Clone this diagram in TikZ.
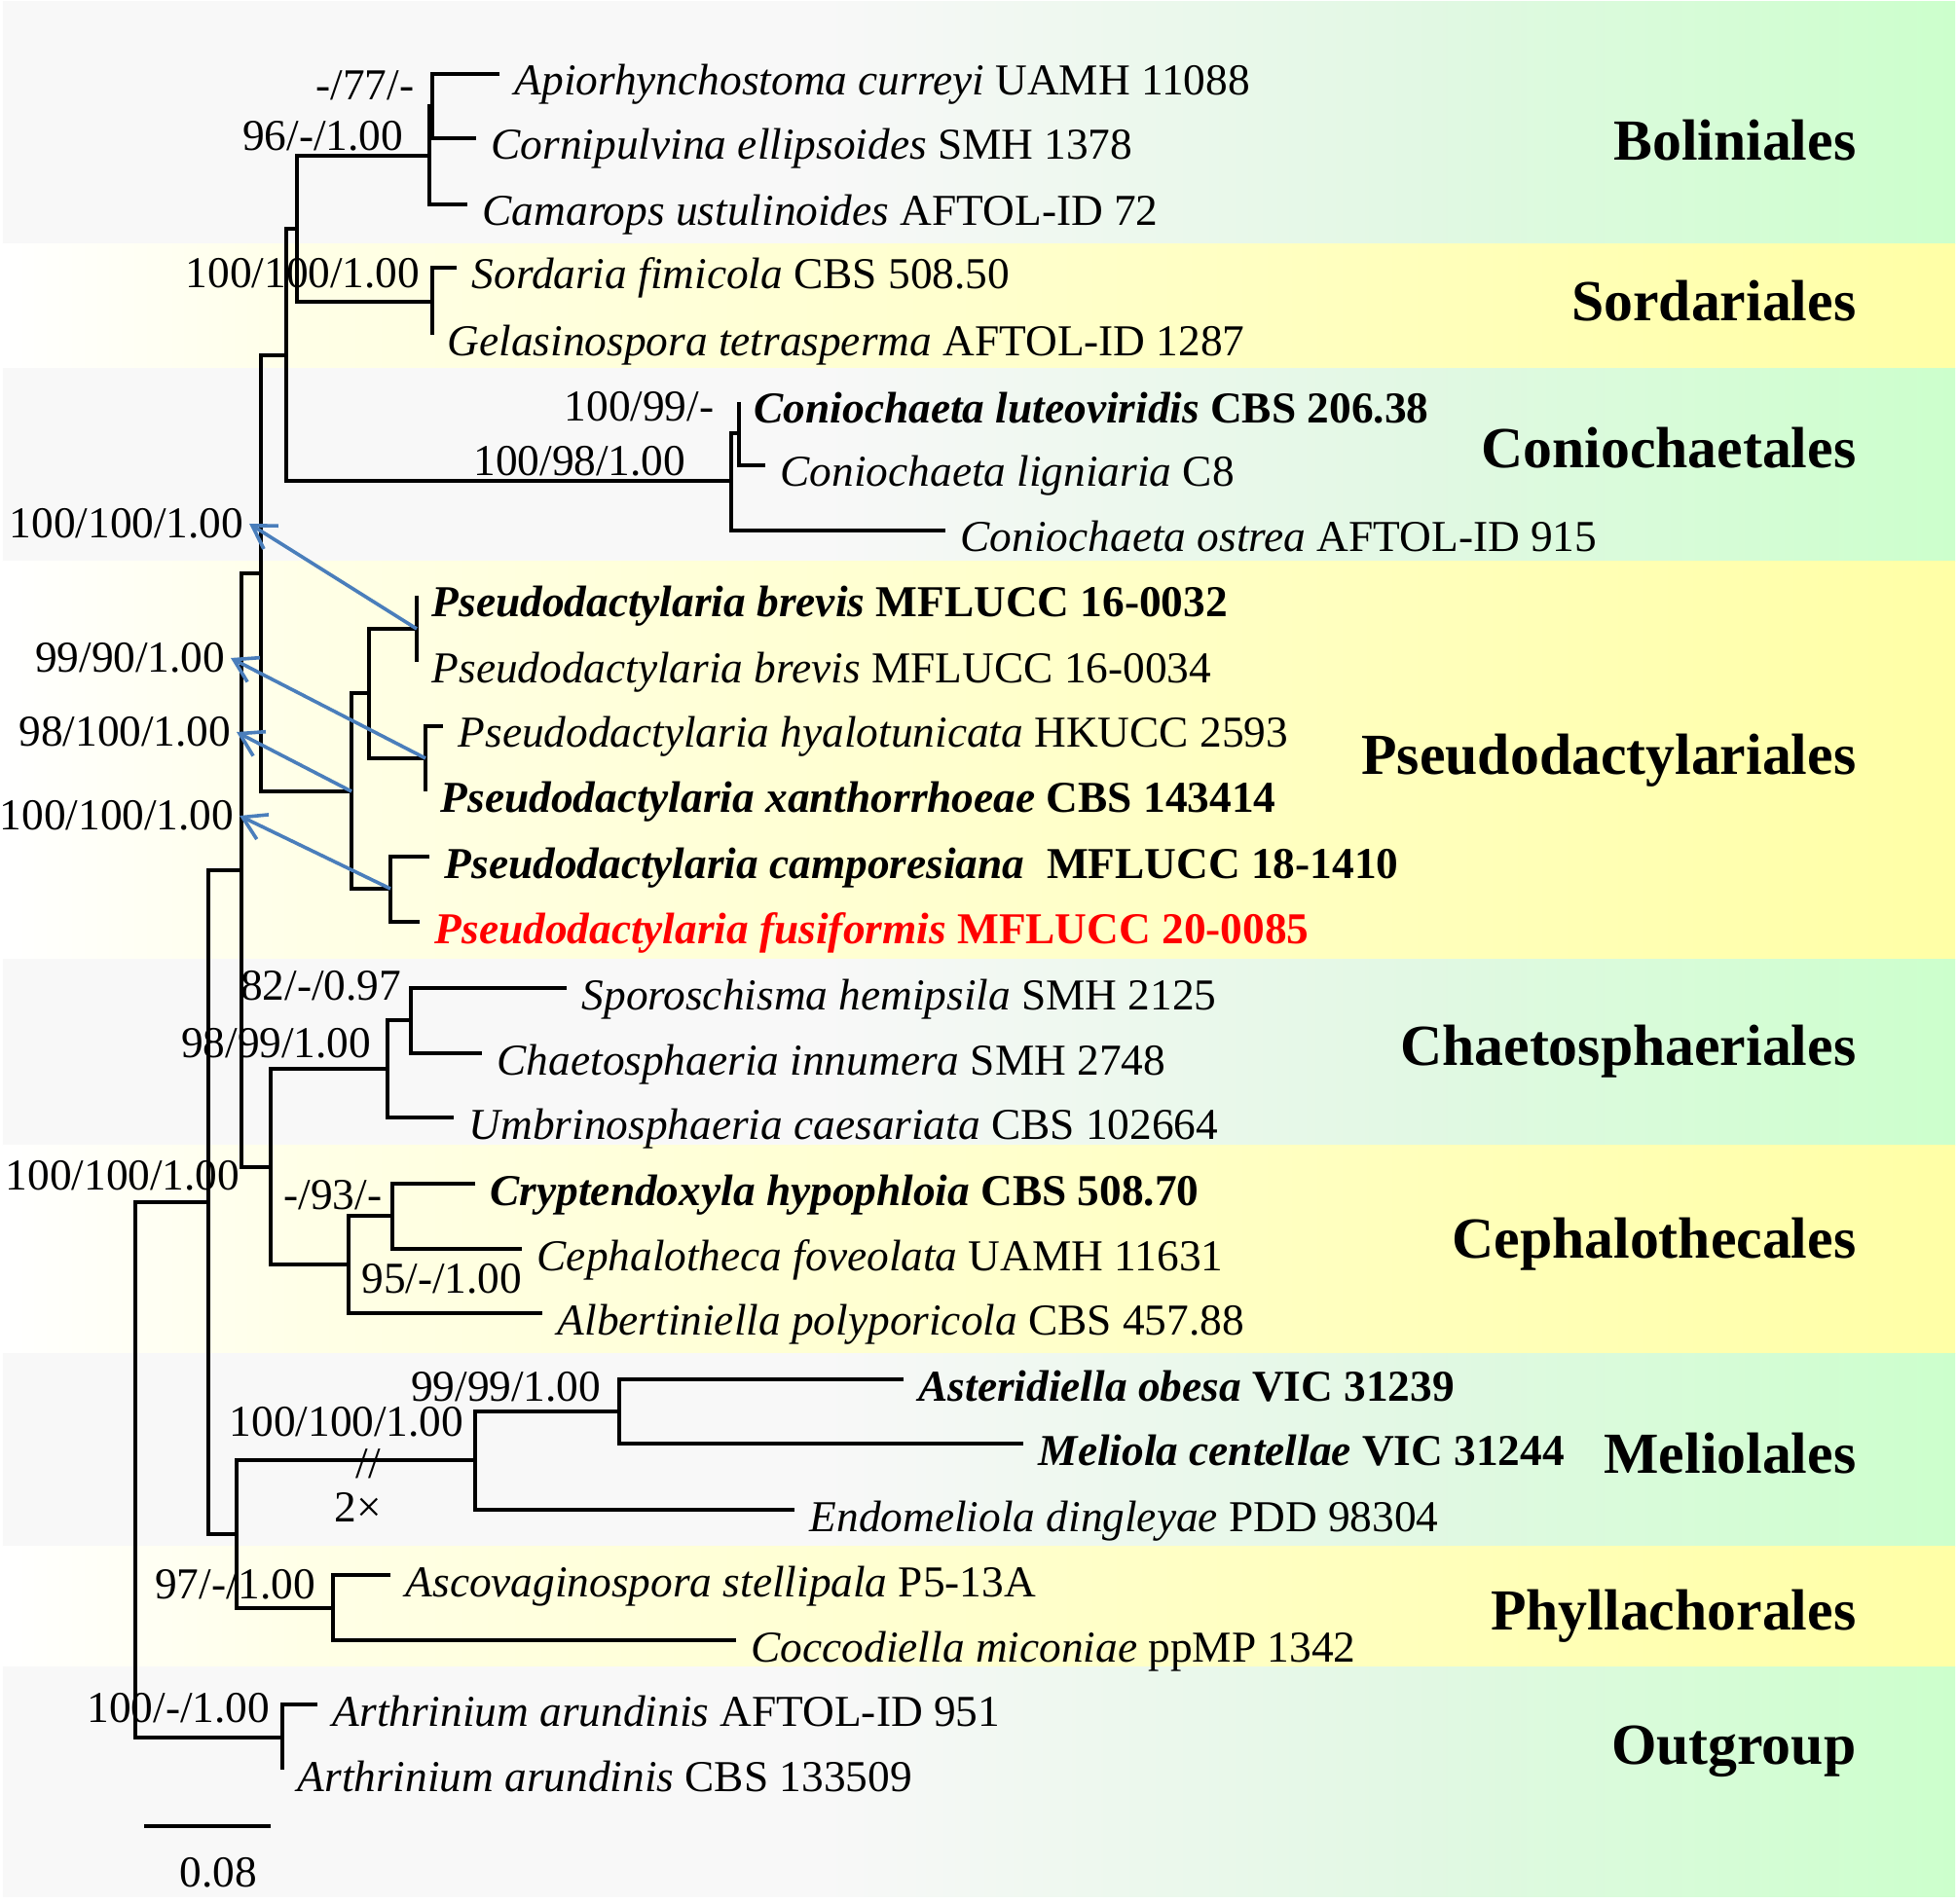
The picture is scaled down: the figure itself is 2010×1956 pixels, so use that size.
\documentclass[tikz,border=0pt]{standalone}
\usepackage{fontspec}
\setmainfont{Liberation Serif}
\usepackage{xcolor}
\usetikzlibrary{arrows.meta}

\definecolor{greystart}{RGB}{248,248,248}
\definecolor{greenmid}{RGB}{226,248,228}
\definecolor{greenend}{RGB}{204,255,204}
\definecolor{yellowlight}{RGB}{255,255,230}
\definecolor{yellowmid}{RGB}{255,255,205}
\definecolor{yellowend}{RGB}{255,255,166}
\definecolor{arrowblue}{RGB}{74,126,187}
\definecolor{newred}{RGB}{255,0,0}

\pgfdeclarehorizontalshading{greenband}{100bp}{color(0bp)=(greystart); color(25bp)=(greystart);
  color(46bp)=(greystart); color(61bp)=(greenmid); color(75bp)=(greenend); color(100bp)=(greenend)}
\pgfdeclarehorizontalshading{yellowband}{100bp}{color(0bp)=(white); color(25bp)=(white);
  color(33bp)=(yellowlight); color(50bp)=(yellowmid); color(75bp)=(yellowend); color(100bp)=(yellowend)}

\tikzset{
  branch/.style={line width=0.33mm},
  taxon/.style={anchor=base west, inner sep=0pt, xshift=1.5mm, yshift=-2.2mm,
    font=\fontsize{12.9}{15}\selectfont},
  bsval/.style={anchor=east, inner xsep=0.5mm, inner ysep=0pt, font=\fontsize{12.9}{15}\selectfont},
  orderlabel/.style={anchor=base east, inner sep=0pt, font=\fontsize{17}{20}\selectfont\bfseries},
  pointer/.style={arrowblue, line width=0.36mm, -{Straight Barb[length=2.3mm, width=2.8mm]}},
  greenrow/.style={shading=greenband},
  yellowrow/.style={shading=yellowband},
}

\begin{document}
\begin{tikzpicture}[x=0.1mm, y=-0.1mm]
  \fill[white] (0,0) rectangle (2010,1956);
  \useasboundingbox (0,0) rectangle (2010,1956);

  % bands, one per order
  \shade[greenrow]  (3,2)    rectangle (2008,251);
  \shade[yellowrow] (3,251)  rectangle (2008,379);
  \shade[greenrow]  (3,379)  rectangle (2008,577);
  \shade[yellowrow] (3,577)  rectangle (2008,985);
  \shade[greenrow]  (3,985)  rectangle (2008,1176);
  \shade[yellowrow] (3,1176) rectangle (2008,1390);
  \shade[greenrow]  (3,1390) rectangle (2008,1588);
  \shade[yellowrow] (3,1588) rectangle (2008,1712);
  \shade[greenrow]  (3,1712) rectangle (2008,1948);

  % order names
  \node[orderlabel] (boli)  at (1907,165)  {Boliniales};
  \node[orderlabel] (sord)  at (1907,330)  {Sordariales};
  \node[orderlabel] (conio) at (1907,481)  {Coniochaetales};
  \node[orderlabel] (pseu)  at (1907,796)  {Pseudodactylariales};
  \node[orderlabel] (chae)  at (1907,1094) {Chaetosphaeriales};
  \node[orderlabel] (ceph)  at (1907,1292) {Cephalothecales};
  \node[orderlabel] (meli)  at (1907,1513) {Meliolales};
  \node[orderlabel] (phyl)  at (1907,1674) {Phyllachorales};
  \node[orderlabel] (outg)  at (1907,1812) {Outgroup};

  % tip ends
  \coordinate (t1)  at (513,76);
  \coordinate (t2)  at (489,142);
  \coordinate (t3)  at (480,210);
  \coordinate (t4)  at (469,275);
  \coordinate (t5)  at (444,344);
  \coordinate (t6)  at (759,413);
  \coordinate (t7)  at (786,478);
  \coordinate (t8)  at (971,545);
  \coordinate (t9)  at (428,612);
  \coordinate (t10) at (428,680);
  \coordinate (t11) at (455,746);
  \coordinate (t12) at (437,813);
  \coordinate (t13) at (441,880);
  \coordinate (t14) at (431,947);
  \coordinate (t15) at (582,1015);
  \coordinate (t16) at (495,1082);
  \coordinate (t17) at (466,1148);
  \coordinate (t18) at (488,1216);
  \coordinate (t19) at (536,1283);
  \coordinate (t20) at (557,1349);
  \coordinate (t21) at (928,1417);
  \coordinate (t22) at (1051,1483);
  \coordinate (t23) at (816,1551);
  \coordinate (t24) at (401,1618);
  \coordinate (t25) at (756,1685);
  \coordinate (t26) at (326,1751);
  \coordinate (t27) at (290,1818);

  % inner nodes
  \coordinate (nA) at (444,109);
  \coordinate (nB) at (441,160);
  \coordinate (nC) at (444,310);
  \coordinate (nD) at (305,235);
  \coordinate (nE) at (294,365);
  \coordinate (nF) at (759,445);
  \coordinate (nG) at (751,494);
  \coordinate (nH) at (268,589);
  \coordinate (nI) at (428,646);
  \coordinate (nJ) at (437,779);
  \coordinate (nK) at (379,712);
  \coordinate (nL) at (401,913);
  \coordinate (nM) at (361,813);
  \coordinate (nN) at (422,1048);
  \coordinate (nO) at (398,1098);
  \coordinate (nP) at (403,1249);
  \coordinate (nQ) at (358,1299);
  \coordinate (nR) at (278,1199);
  \coordinate (nS) at (248,894);
  \coordinate (nT) at (636,1450);
  \coordinate (nU) at (488,1500);
  \coordinate (nV) at (342,1652);
  \coordinate (nW) at (243,1576);
  \coordinate (nX) at (214,1235);
  \coordinate (nY) at (290,1785);
  \coordinate (root) at (139,1510);

  % branches
  \draw[branch] (t1) -| (nA) |- (t2);
  \draw[branch] (nA) -| (nB) |- (t3);
  \draw[branch] (t4) -| (nC) |- (t5);
  \draw[branch] (nB) -| (nD) |- (nC);
  \draw[branch] (t6) -| (nF) |- (t7);
  \draw[branch] (nF) -| (nG) |- (t8);
  \draw[branch] (nD) -| (nE) |- (nG);
  \draw[branch] (t9) -| (nI) |- (t10);
  \draw[branch] (t11) -| (nJ) |- (t12);
  \draw[branch] (nI) -| (nK) |- (nJ);
  \draw[branch] (t13) -| (nL) |- (t14);
  \draw[branch] (nK) -| (nM) |- (nL);
  \draw[branch] (nE) -| (nH) |- (nM);
  \draw[branch] (t15) -| (nN) |- (t16);
  \draw[branch] (nN) -| (nO) |- (t17);
  \draw[branch] (t18) -| (nP) |- (t19);
  \draw[branch] (nP) -| (nQ) |- (t20);
  \draw[branch] (nO) -| (nR) |- (nQ);
  \draw[branch] (nH) -| (nS) |- (nR);
  \draw[branch] (t21) -| (nT) |- (t22);
  \draw[branch] (nT) -| (nU) |- (t23);
  \draw[branch] (t24) -| (nV) |- (t25);
  \draw[branch] (nU) -| (nW) |- (nV);
  \draw[branch] (nS) -| (nX) |- (nW);
  \draw[branch] (t26) -| (nY) |- (t27);
  \draw[branch] (nX) -| (root) |- (nY);

  % taxa
  \node[taxon] (apio)  at (t1)  {\textit{Apiorhynchostoma curreyi} UAMH 11088};
  \node[taxon] (corn)  at (t2)  {\textit{Cornipulvina ellipsoides} SMH 1378};
  \node[taxon] (cama)  at (t3)  {\textit{Camarops ustulinoides} AFTOL-ID 72};
  \node[taxon] (sfim)  at (t4)  {\textit{Sordaria fimicola} CBS 508.50};
  \node[taxon] (gela)  at (t5)  {\textit{Gelasinospora tetrasperma} AFTOL-ID 1287};
  \node[taxon] (clut)  at (t6)  {\bfseries\textit{Coniochaeta luteoviridis} CBS 206.38};
  \node[taxon] (clig)  at (t7)  {\textit{Coniochaeta ligniaria} C8};
  \node[taxon] (cost)  at (t8)  {\textit{Coniochaeta ostrea} AFTOL-ID 915};
  \node[taxon] (pbr1)  at (t9)  {\bfseries\textit{Pseudodactylaria brevis} MFLUCC 16-0032};
  \node[taxon] (pbr2)  at (t10) {\textit{Pseudodactylaria brevis} MFLUCC 16-0034};
  \node[taxon] (phya)  at (t11) {\textit{Pseudodactylaria hyalotunicata} HKUCC 2593};
  \node[taxon] (pxan)  at (t12) {\bfseries\textit{Pseudodactylaria xanthorrhoeae} CBS 143414};
  \node[taxon] (pcam)  at (t13) {\bfseries\textit{Pseudodactylaria camporesiana}\ \ MFLUCC 18-1410};
  \node[taxon, text=newred] (pfus) at (t14) {\bfseries\textit{Pseudodactylaria fusiformis} MFLUCC 20-0085};
  \node[taxon] (spor)  at (t15) {\textit{Sporoschisma hemipsila} SMH 2125};
  \node[taxon] (cinn)  at (t16) {\textit{Chaetosphaeria innumera} SMH 2748};
  \node[taxon] (umbr)  at (t17) {\textit{Umbrinosphaeria caesariata} CBS 102664};
  \node[taxon] (cryp)  at (t18) {\bfseries\textit{Cryptendoxyla hypophloia} CBS 508.70};
  \node[taxon] (cfov)  at (t19) {\textit{Cephalotheca foveolata} UAMH 11631};
  \node[taxon] (albe)  at (t20) {\textit{Albertiniella polyporicola} CBS 457.88};
  \node[taxon] (aste)  at (t21) {\bfseries\textit{Asteridiella obesa} VIC 31239};
  \node[taxon] (mcen)  at (t22) {\bfseries\textit{Meliola centellae} VIC 31244};
  \node[taxon] (endo)  at (t23) {\textit{Endomeliola dingleyae} PDD 98304};
  \node[taxon] (asco)  at (t24) {\textit{Ascovaginospora stellipala} P5-13A};
  \node[taxon] (cocc)  at (t25) {\textit{Coccodiella miconiae} ppMP 1342};
  \node[taxon] (arth1) at (t26) {\textit{Arthrinium arundinis} AFTOL-ID 951};
  \node[taxon] (arth2) at (t27) {\textit{Arthrinium arundinis} CBS 133509};

  % support values
  \node[bsval] (sA) at (431,88)   {-/77/-};
  \node[bsval] (sB) at (420,140)  {96/-/1.00};
  \node[bsval] (sD) at (437,281)  {100/100/1.00};
  \node[bsval] (sF) at (739,418)  {100/99/-};
  \node[bsval] (sG) at (710,474)  {100/98/1.00};
  \node[bsval] (sI) at (256,538)  {100/100/1.00};
  \node[bsval] (sJ) at (237,676)  {99/90/1.00};
  \node[bsval] (sM) at (243,752)  {98/100/1.00};
  \node[bsval] (sL) at (246,838)  {100/100/1.00};
  \node[bsval] (sN) at (418,1013) {82/-/0.97};
  \node[bsval] (sO) at (387,1072) {98/99/1.00};
  \node[bsval] (sX) at (252,1208) {100/100/1.00};
  \node[bsval] (sP) at (398,1228) {-/93/-};
  \node[bsval] (sQ) at (542,1314) {95/-/1.00};
  \node[bsval] (sT) at (623,1425) {99/99/1.00};
  \node[bsval] (sU) at (482,1461) {100/100/1.00};
  \node[bsval] (sV) at (330,1628) {97/-/1.00};
  \node[bsval] (sY) at (283,1755) {100/-/1.00};

  % pointers from the Pseudodactylaria nodes
  \draw[pointer] (nI) -- (sI.east);
  \draw[pointer] (nJ) -- (sJ.east);
  \draw[pointer] (nM) -- (sM.east);
  \draw[pointer] (nL) -- (sL.east);

  % shortened branch
  \node[font=\fontsize{12.9}{15}\selectfont, inner sep=0pt] (cut) at (378,1504) {//};
  \node[font=\fontsize{12.9}{15}\selectfont, inner sep=0pt] (times) at (368,1548) {2×};

  % scale bar
  \coordinate (sb1) at (148,1876);
  \coordinate (sb2) at (278,1876);
  \draw[branch] (sb1) -- (sb2);
  \node[font=\fontsize{12.9}{15}\selectfont, anchor=base, inner sep=0pt] (sblabel) at (224,1938) {0.08};
\end{tikzpicture}
\end{document}
